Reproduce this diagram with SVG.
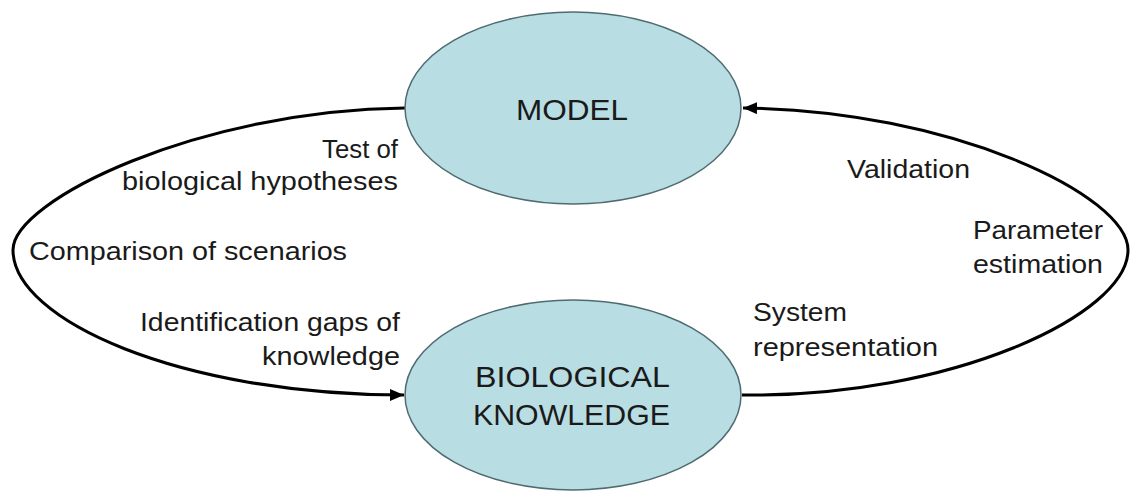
<svg xmlns="http://www.w3.org/2000/svg" width="1138" height="494" viewBox="0 0 1138 494">
<style>
.node{fill:#b8dde3;stroke:#4f6b70;stroke-width:1.5}
.conn{fill:none;stroke:#000;stroke-width:3}
.lbl{font-family:"Liberation Sans",Arial,sans-serif;font-size:25px;fill:#1a1a1a}
.nlbl{font-family:"Liberation Sans",Arial,sans-serif;font-size:30px;fill:#1a1a1a}
</style>
<defs>
<marker id="arr" viewBox="0 0 14 12" refX="14" refY="6" markerWidth="14" markerHeight="12" markerUnits="userSpaceOnUse" orient="auto">
<path d="M0,0 L14,6 L0,12 Z" fill="#000"/>
</marker>
</defs>
<rect width="1138" height="494" fill="#fff"/>
<g id="connectors">
<path class="conn" d="M405,108 C200,110 13,200 13,250 C13,320 180,395 404,395" marker-end="url(#arr)"/>
<path class="conn" d="M742,395 C950,398 1128,315 1128,250 C1128,195 950,110 743,108" marker-end="url(#arr)"/>
</g>
<g id="model">
<ellipse class="node" cx="573" cy="108" rx="168" ry="96"/>
<text class="nlbl" x="516" y="120" textLength="112" lengthAdjust="spacingAndGlyphs">MODEL</text>
</g>
<g id="biological-knowledge">
<ellipse class="node" cx="573" cy="395" rx="168" ry="95"/>
<text class="nlbl" x="475" y="387" textLength="195" lengthAdjust="spacingAndGlyphs">BIOLOGICAL</text>
<text class="nlbl" x="473" y="425" textLength="197" lengthAdjust="spacingAndGlyphs">KNOWLEDGE</text>
</g>
<g id="labels">
<text class="lbl" x="322" y="158" textLength="76" lengthAdjust="spacingAndGlyphs">Test of</text>
<text class="lbl" x="122" y="190" textLength="276" lengthAdjust="spacingAndGlyphs">biological hypotheses</text>
<text class="lbl" x="29" y="260" textLength="318" lengthAdjust="spacingAndGlyphs">Comparison of scenarios</text>
<text class="lbl" x="140" y="331" textLength="260" lengthAdjust="spacingAndGlyphs">Identification gaps of</text>
<text class="lbl" x="262" y="365" textLength="138" lengthAdjust="spacingAndGlyphs">knowledge</text>
<text class="lbl" x="847" y="178" textLength="123" lengthAdjust="spacingAndGlyphs">Validation</text>
<text class="lbl" x="973" y="239" textLength="130" lengthAdjust="spacingAndGlyphs">Parameter</text>
<text class="lbl" x="973" y="273" textLength="130" lengthAdjust="spacingAndGlyphs">estimation</text>
<text class="lbl" x="753" y="321" textLength="94" lengthAdjust="spacingAndGlyphs">System</text>
<text class="lbl" x="753" y="356" textLength="185" lengthAdjust="spacingAndGlyphs">representation</text>
</g>
</svg>
